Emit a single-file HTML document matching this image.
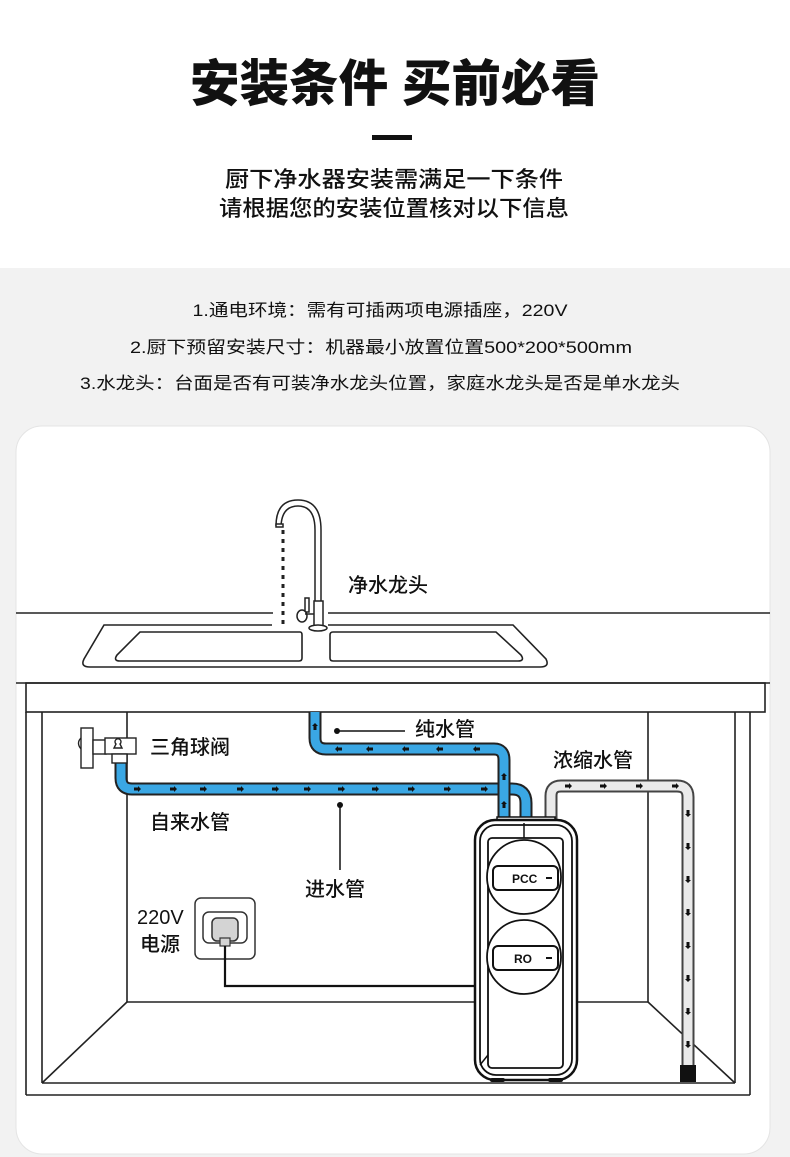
<!DOCTYPE html>
<html><head><meta charset="utf-8"><style>
html,body{margin:0;padding:0;background:#fff}
svg{display:block}
text{font-family:"Liberation Sans","Noto Sans CJK SC",sans-serif}
</style></head><body>
<svg width="790" height="1157" viewBox="0 0 790 1157" xmlns="http://www.w3.org/2000/svg">
<defs>
<path id="ar" d="M0 -1.5 L4 -1.5 L4 -3 L7 0 L4 3 L4 1.5 L0 1.5Z" fill="#111"/>
</defs>
<rect x="0" y="0" width="790" height="268" fill="#fff"/>
<rect x="0" y="268" width="790" height="889" fill="#f2f2f2"/>
<text x="395" y="101" text-anchor="middle" font-size="50" font-weight="900" fill="#111" textLength="410" lengthAdjust="spacingAndGlyphs">安装条件 买前必看</text>
<rect x="372" y="135" width="40" height="5" fill="#111"/>
<text x="394" y="187" text-anchor="middle" font-size="22" font-weight="500" fill="#111" textLength="338" lengthAdjust="spacingAndGlyphs">厨下净水器安装需满足一下条件</text>
<text x="394" y="216" text-anchor="middle" font-size="22" font-weight="500" fill="#111" textLength="350" lengthAdjust="spacingAndGlyphs">请根据您的安装位置核对以下信息</text>
<text x="380" y="316" text-anchor="middle" font-size="17" fill="#111" textLength="375" lengthAdjust="spacingAndGlyphs">1.通电环境：需有可插两项电源插座，220V</text>
<text x="381" y="353" text-anchor="middle" font-size="17" fill="#111" textLength="502" lengthAdjust="spacingAndGlyphs">2.厨下预留安装尺寸：机器最小放置位置500*200*500mm</text>
<text x="380" y="389" text-anchor="middle" font-size="17" fill="#111" textLength="600" lengthAdjust="spacingAndGlyphs">3.水龙头：台面是否有可装净水龙头位置，家庭水龙头是否是单水龙头</text>
<rect x="16" y="426" width="754" height="728" rx="26" fill="#fff" stroke="#e4e4e4"/>

<g fill="none" stroke="#222" stroke-width="1.6">
<line x1="16" y1="613" x2="273" y2="613"/><line x1="328" y1="613" x2="770" y2="613"/>
<path d="M272 625 L104 625 L84 659 Q80 667 90 667 L540 667 Q550 667 546 659 L513 625 L328 625"/>
<path d="M140 632 L300 632 Q302 632 302 635 L302 658 Q302 661 299 661 L120 661 Q113 661 117 655 Z"/>
<path d="M333 632 L496 632 L521 655 Q525 661 518 661 L333 661 Q330 661 330 658 L330 635 Q330 632 333 632 Z"/>
<rect x="26" y="683" width="739" height="29"/>
<line x1="16" y1="683" x2="770" y2="683"/>
<line x1="26" y1="712" x2="26" y2="1095"/>
<line x1="42" y1="712" x2="42" y2="1083"/>
<line x1="127" y1="712" x2="127" y2="1002"/>
<line x1="648" y1="712" x2="648" y2="1002"/>
<line x1="735" y1="712" x2="735" y2="1083"/>
<line x1="750" y1="712" x2="750" y2="1095"/>
<line x1="127" y1="1002" x2="648" y2="1002"/>
<line x1="127" y1="1002" x2="42" y2="1083"/>
<line x1="648" y1="1002" x2="735" y2="1083"/>
<line x1="42" y1="1083" x2="735" y2="1083"/>
<line x1="26" y1="1095" x2="750" y2="1095"/>
</g>
<g fill="none" stroke="#222" stroke-width="1.5">
<path d="M315 602 L315 530 Q315 506 298 506 Q282 506 281 526"/>
<path d="M321 602 L321 530 Q321 500 298 500 Q276 500 276 526"/>
<rect x="314" y="601" width="9" height="26" fill="#fff"/>
<rect x="305" y="598" width="4" height="14" fill="#fff"/>
<ellipse cx="302" cy="616" rx="5" ry="6" fill="#fff"/>
<line x1="305" y1="614" x2="314" y2="614"/>
<ellipse cx="318" cy="628" rx="9" ry="3" fill="#fff"/>
<rect x="276" y="524" width="7" height="3" fill="#fff"/>
</g>
<line x1="283" y1="530" x2="283" y2="628" stroke="#222" stroke-width="3" stroke-dasharray="4 5"/>
<text x="348" y="592" font-size="20" font-weight="500" fill="#111">净水龙头</text>

<g fill="none">
<path d="M121 760 L121 778 Q121 789 132 789 L512 789 Q526 789 526 803 L526 822" stroke="#222" stroke-width="13"/>
<path d="M121 760 L121 778 Q121 789 132 789 L512 789 Q526 789 526 803 L526 822" stroke="#3aa7e4" stroke-width="9"/>
<path d="M315 712 L315 738 Q315 749 326 749 L494 749 Q504 749 504 760 L504 822" stroke="#222" stroke-width="13"/>
<path d="M315 712 L315 738 Q315 749 326 749 L494 749 Q504 749 504 760 L504 822" stroke="#3aa7e4" stroke-width="9"/>
<path d="M551 822 L551 796 Q551 786 561 786 L677 786 Q688 786 688 797 L688 1066" stroke="#444" stroke-width="13"/>
<path d="M551 822 L551 796 Q551 786 561 786 L677 786 Q688 786 688 797 L688 1066" stroke="#eaeaea" stroke-width="9"/>
</g>
<rect x="680" y="1065" width="16" height="17" fill="#111"/>
<g>
<use href="#ar" x="134" y="789"/><use href="#ar" x="170" y="789"/><use href="#ar" x="200" y="789"/><use href="#ar" x="237" y="789"/><use href="#ar" x="272" y="789"/><use href="#ar" x="304" y="789"/><use href="#ar" x="338" y="789"/><use href="#ar" x="372" y="789"/><use href="#ar" x="408" y="789"/><use href="#ar" x="444" y="789"/><use href="#ar" x="481" y="789"/>
<use href="#ar" x="565" y="786"/><use href="#ar" x="600" y="786"/><use href="#ar" x="636" y="786"/><use href="#ar" x="672" y="786"/>
<g transform="translate(688,810) rotate(90)"><use href="#ar"/></g>
<g transform="translate(688,843) rotate(90)"><use href="#ar"/></g>
<g transform="translate(688,876) rotate(90)"><use href="#ar"/></g>
<g transform="translate(688,909) rotate(90)"><use href="#ar"/></g>
<g transform="translate(688,942) rotate(90)"><use href="#ar"/></g>
<g transform="translate(688,975) rotate(90)"><use href="#ar"/></g>
<g transform="translate(688,1008) rotate(90)"><use href="#ar"/></g>
<g transform="translate(688,1041) rotate(90)"><use href="#ar"/></g>
<g transform="translate(480,749) rotate(180)"><use href="#ar"/></g>
<g transform="translate(443,749) rotate(180)"><use href="#ar"/></g>
<g transform="translate(409,749) rotate(180)"><use href="#ar"/></g>
<g transform="translate(373,749) rotate(180)"><use href="#ar"/></g>
<g transform="translate(342,749) rotate(180)"><use href="#ar"/></g>
<g transform="translate(315,730) rotate(-90)"><use href="#ar"/></g>
<g transform="translate(504,780) rotate(-90)"><use href="#ar"/></g>
<g transform="translate(504,808) rotate(-90)"><use href="#ar"/></g>
</g>
<g fill="#fff" stroke="#222" stroke-width="1.4">
<path d="M82 737 Q75 743 82 750 Z"/>
<rect x="81" y="728" width="12" height="40"/>
<rect x="93" y="740" width="13" height="14"/>
<rect x="105" y="738" width="31" height="16"/>
<rect x="112" y="754" width="15" height="9"/>
<path d="M116 744 a3 3 0 1 1 4 0 L122 748 L114 748 Z" fill="none"/>
</g>
<text x="150" y="754" font-size="20" font-weight="500" fill="#111">三角球阀</text>
<text x="150" y="829" font-size="20" font-weight="500" fill="#111">自来水管</text>
<circle cx="337" cy="731" r="3" fill="#111"/><line x1="337" y1="731" x2="405" y2="731" stroke="#111" stroke-width="1.5"/>
<text x="415" y="736" font-size="20" font-weight="500" fill="#111">纯水管</text>
<circle cx="340" cy="805" r="3" fill="#111"/><line x1="340" y1="805" x2="340" y2="870" stroke="#111" stroke-width="1.5"/>
<text x="305" y="896" font-size="20" font-weight="500" fill="#111">进水管</text>
<text x="553" y="767" font-size="20" font-weight="500" fill="#111">浓缩水管</text>
<text x="137" y="924" font-size="20" font-weight="500" fill="#111">220V</text>
<text x="140" y="951" font-size="20" font-weight="500" fill="#111">电源</text>
<rect x="195" y="898" width="60" height="61" rx="6" fill="#fff" stroke="#333" stroke-width="1.5"/>
<rect x="203" y="912" width="44" height="31" rx="6" fill="#fff" stroke="#333" stroke-width="1.5"/>
<rect x="212" y="918" width="26" height="23" rx="5" fill="#d4d4d4" stroke="#333" stroke-width="1.5"/>
<rect x="220" y="938" width="10" height="8" fill="#d4d4d4" stroke="#333" stroke-width="1.2"/>
<path d="M225 946 L225 986 L476 986" fill="none" stroke="#111" stroke-width="2.2"/>
<g fill="#fff" stroke="#111">
<rect x="497" y="817" width="58" height="6" stroke-width="1.5"/>
<rect x="475" y="820" width="102" height="260" rx="20" stroke-width="2.5"/>
<rect x="480" y="825" width="92" height="250" rx="16" stroke-width="1.8"/>
<rect x="488" y="838" width="75" height="230" rx="4" stroke-width="1.8"/>
<line x1="524" y1="823" x2="524" y2="838" stroke-width="1.5"/>
<path d="M480 1065 L488 1055" stroke-width="1.5"/>
<circle cx="524" cy="877" r="37" stroke-width="1.8"/>
<circle cx="524" cy="957" r="37" stroke-width="1.8"/>
<rect x="493" y="866" width="65" height="24" rx="5" stroke-width="2"/>
<rect x="493" y="946" width="65" height="24" rx="5" stroke-width="2"/>
</g>
<text x="512" y="883" font-size="12" font-weight="700" fill="#111">PCC</text>
<text x="514" y="963" font-size="12" font-weight="700" fill="#111">RO</text>
<rect x="546" y="877" width="6" height="2" fill="#111"/>
<rect x="546" y="957" width="6" height="2" fill="#111"/>
<rect x="490" y="1078" width="15" height="4" rx="2" fill="#111"/>
<rect x="548" y="1078" width="15" height="4" rx="2" fill="#111"/>
</svg>
</body></html>
